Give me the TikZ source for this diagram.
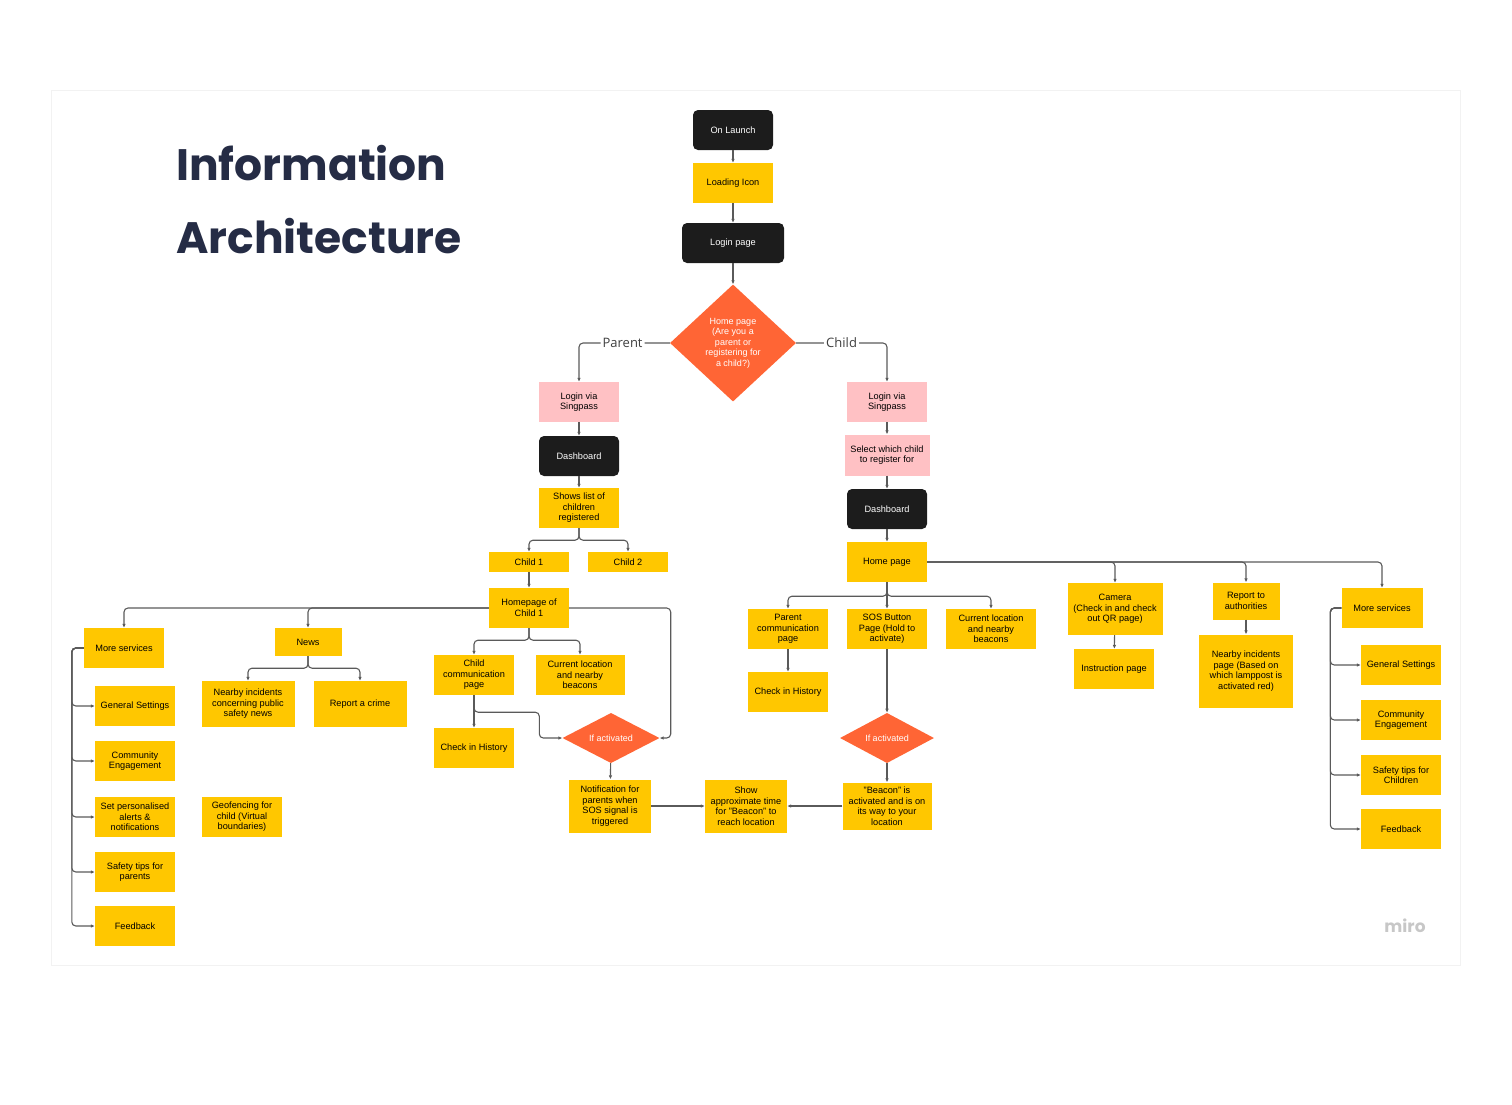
\documentclass[tikz,border=0pt]{standalone}
\usepackage{fontspec}
\setmainfont{Liberation Sans}
\newfontfamily\titlefont{Poppins}
\newfontfamily\lblfont{Open Sans}
\usepackage{tikz}
\usetikzlibrary{arrows.meta,shapes.geometric}
\definecolor{ybox}{HTML}{FFC700}
\definecolor{pbox}{HTML}{FFC1C4}
\definecolor{obox}{HTML}{FF6535}
\definecolor{kbox}{HTML}{1C1C1C}
\definecolor{wire}{HTML}{5A5A5A}
\definecolor{ttl}{HTML}{252C45}

\begin{document}
\begin{tikzpicture}[x=1pt,y=-1pt,>={Latex[length=4pt,width=3.6pt]},
  bx/.style={rectangle,inner sep=1pt,align=center,font=\fontsize{9.2}{10.6}\selectfont,minimum width=80,minimum height=40},
  yb/.style={bx,fill=ybox},
  pk/.style={bx,fill=pbox},
  bk/.style={bx,fill=kbox,text=white,rounded corners=5pt},
  dm/.style={diamond,fill=obox,text=white,inner sep=0pt,align=center,font=\fontsize{9}{10.5}\selectfont},
  ln/.style={draw=wire,line width=1.1pt,rounded corners=4pt},
  lbl/.style={fill=white,inner sep=2pt,font=\lblfont\fontsize{13}{13}\selectfont,text=black!75}]
\useasboundingbox (0,0) rectangle (1512,1104);
\draw[black!5,line width=1pt] (51,90) rectangle (1460,965);

% title
\node[anchor=base west,text=ttl,font=\titlefont\bfseries\fontsize{44}{44}\selectfont,inner sep=0pt] (t1) at (176,180) {Information};
\node[anchor=base west,text=ttl,font=\titlefont\bfseries\fontsize{44}{44}\selectfont,inner sep=0pt] (t2) at (176,253) {Architecture};
\node[text=black!22,font=\titlefont\bfseries\fontsize{17}{17}\selectfont] (miro) at (1405,926) {miro};

% start
\node[bk] (launch) at (733,130) {On Launch};
\node[yb] (load) at (733,183) {Loading Icon};
\node[bk,minimum width=102] (login) at (733,243) {Login page};
\node[dm,minimum width=126,minimum height=117] (home) at (733,343) {Home page\\(Are you a\\parent or\\registering for\\a child?)};
\draw[ln,->] (launch)--(load); \draw[ln,->] (load)--(login); \draw[ln,->] (login)--(home);

% parent side
\node[pk] (plog) at (579,402) {Login via\\Singpass};
\node[bk] (pdash) at (579,456) {Dashboard};
\node[yb] (plist) at (579,508) {Shows list of\\children\\registered};
\node[yb,minimum height=20] (c1) at (529,562) {Child 1};
\node[yb,minimum height=20] (c2) at (628,562) {Child 2};
\node[yb] (hc1) at (529,608) {Homepage of\\Child 1};
\draw[ln,->] (home.west) -| node[lbl,pos=0.26]{Parent} (plog.north);
\draw[ln,->] (plog)--(pdash); \draw[ln,->] (pdash)--(plist);
\draw[ln,->] (plist.south) -- ++(0,12) -| (c1.north);
\draw[ln,->] (plist.south) -- ++(0,12) -| (c2.north);
\draw[ln,->] (c1)--(hc1);

\node[yb] (lmore) at (124,648) {More services};
\node[yb,minimum width=67,minimum height=28] (news) at (308,642) {News};
\node[yb,minimum width=93,minimum height=46] (ninc) at (248,704) {Nearby incidents\\concerning public\\safety news};
\node[yb,minimum width=93,minimum height=46] (crime) at (360,704) {Report a crime};
\node[yb] (geo) at (242,817) {Geofencing for\\child (Virtual\\boundaries)};
\node[yb] (gs) at (135,706) {General Settings};
\node[yb] (ce) at (135,761) {Community\\Engagement};
\node[yb] (sp) at (135,817) {Set personalised\\alerts \&\\notifications};
\node[yb] (st) at (135,872) {Safety tips for\\parents};
\node[yb] (fb) at (135,926) {Feedback};
\draw[ln,->] (hc1.west) -| (lmore.north);
\draw[ln,->] (hc1.west) -| (news.north);
\draw[ln,->] (news.south) -- ++(0,12) -| (ninc.north);
\draw[ln,->] (news.south) -- ++(0,12) -| (crime.north);
\foreach \t in {gs,ce,sp,st,fb} \draw[ln,->] (lmore.west) -- ++(-12,0) |- (\t.west);

\node[yb] (ccom) at (474,675) {Child\\communication\\page};
\node[yb,minimum width=89] (cloc) at (580,675) {Current location\\and nearby\\beacons};
\node[yb] (chist1) at (474,748) {Check in History};
\node[dm,minimum width=97,minimum height=44] (la) at (611,738) {If activated};
\node[yb,minimum width=82,minimum height=53] (notif) at (610,806) {Notification for\\parents when\\SOS signal is\\triggered};
\node[yb,minimum width=82,minimum height=53] (show) at (746,806) {Show\\approximate time\\for "Beacon" to\\reach location};
\draw[ln,->] (hc1.south) -- ++(0,12) -| (ccom.north);
\draw[ln,->] (hc1.south) -- ++(0,12) -| (cloc.north);
\draw[ln,->] (ccom)--(chist1);
\draw[ln,->] (ccom.south) -- ++(0,17) -| ([xshift=-23pt]la.west) -- (la.west);
\draw[ln,->] (hc1.east) -| ([xshift=11pt]la.east) -- (la.east);
\draw[ln,->] (la)--(notif);
\draw[ln,->] (notif)--(show);

% child side
\node[pk] (clog) at (887,402) {Login via\\Singpass};
\node[pk,minimum width=85,minimum height=41] (sel) at (887,455) {Select which child\\to register for};
\node[bk] (cdash) at (887,509) {Dashboard};
\node[yb] (chome) at (887,562) {Home page};
\draw[ln,->] (home.east) -| node[lbl,pos=0.25]{Child} (clog.north);
\draw[ln,->] (clog)--(sel); \draw[ln,->] (sel)--(cdash); \draw[ln,->] (cdash)--(chome);

\node[yb] (pcom) at (788,629) {Parent\\communication\\page};
\node[yb] (sos) at (887,629) {SOS Button\\Page (Hold to\\activate)};
\node[yb,minimum width=90] (ccur) at (991,629) {Current location\\and nearby\\beacons};
\node[yb] (chist2) at (788,692) {Check in History};
\node[dm,minimum width=94,minimum height=44] (ra) at (887,738) {If activated};
\node[yb,minimum width=89,minimum height=47] (beacon) at (887,806) {"Beacon" is\\activated and is on\\its way to your\\location};
\draw[ln,->] (chome.south) -- ++(0,14) -| (pcom.north);
\draw[ln,->] (chome.south) -- ++(0,14) -| (sos.north);
\draw[ln,->] (chome.south) -- ++(0,14) -| (ccur.north);
\draw[ln,->] (pcom)--(chist2);
\draw[ln,->] (sos)--(ra); \draw[ln,->] (ra)--(beacon);
\draw[ln,->] (beacon)--(show);

\node[yb,minimum width=95,minimum height=52] (cam) at (1115,609) {Camera\\(Check in and check\\out QR page)};
\node[yb] (instr) at (1114,669) {Instruction page};
\node[yb,minimum width=67,minimum height=37] (rep) at (1246,601) {Report to\\authorities};
\node[yb,minimum width=94,minimum height=73] (ninc2) at (1246,671) {Nearby incidents\\page (Based on\\which lamppost is\\activated red)};
\node[yb,minimum width=81] (rmore) at (1382,608) {More services};
\node[yb] (gs2) at (1401,665) {General Settings};
\node[yb] (ce2) at (1401,720) {Community\\Engagement};
\node[yb] (st2) at (1401,775) {Safety tips for\\Children};
\node[yb] (fb2) at (1401,829) {Feedback};
\draw[ln,->] (chome.east) -| (cam.north);
\draw[ln,->] (chome.east) -| (rep.north);
\draw[ln,->] (chome.east) -| (rmore.north);
\draw[ln,->] (cam)--(instr);
\draw[ln,->] (rep)--(ninc2);
\foreach \t in {gs2,ce2,st2,fb2} \draw[ln,->] (rmore.west) -- ++(-11,0) |- (\t.west);
\end{tikzpicture}
\end{document}
